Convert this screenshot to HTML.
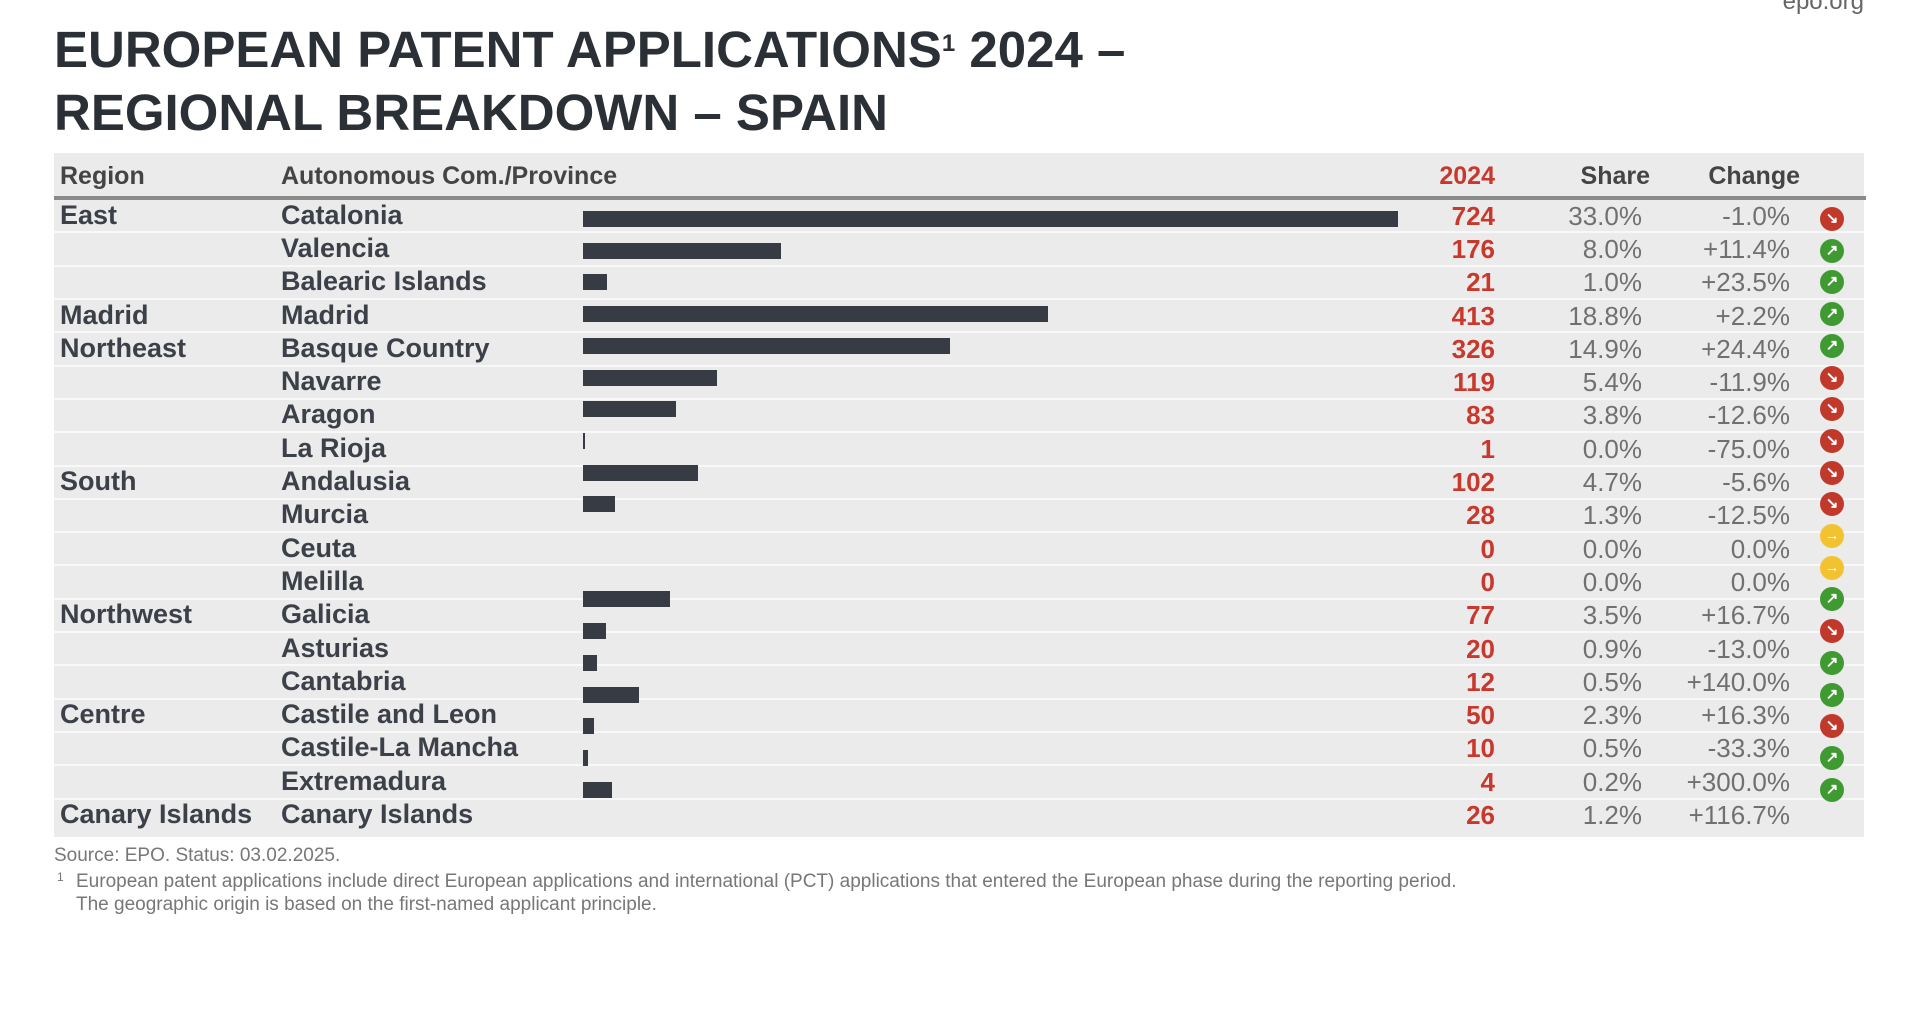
<!DOCTYPE html>
<html><head><meta charset="utf-8">
<style>
body{margin:0;width:1920px;height:1011px;background:#fff;position:relative;overflow:hidden;font-family:"Liberation Sans",sans-serif;}
.abs{position:absolute;white-space:nowrap;}
#title{left:54px;top:18px;font-size:51px;font-weight:bold;color:#2b2f36;line-height:63px;}
#title sup{font-size:24px;vertical-align:top;position:relative;top:-6px;}
#epo{right:56px;top:-12px;font-size:24px;color:#666;}
#table{left:54px;top:153px;width:1810px;height:684px;background:#ebebec;}
.hdr{top:162px;font-size:25px;font-weight:bold;color:#444;}
#hline{left:54px;top:196px;width:1812px;height:4px;background:#8a8a8a;}
.sep{position:absolute;left:54px;width:1810px;height:2px;background:#f8f8f8;}
.lab{font-size:27px;font-weight:bold;color:#3c4048;}
.num{font-size:26px;font-weight:bold;color:#c8382c;text-align:right;}
.val{font-size:26px;color:#707070;text-align:right;}
.bar{position:absolute;background:#363b44;height:16px;}
.foot{font-size:19px;color:#777;}
</style></head><body>
<div class="abs" id="epo">epo.org</div>
<div class="abs" id="title">EUROPEAN PATENT APPLICATIONS<sup>1</sup> 2024 –<br>REGIONAL BREAKDOWN – SPAIN</div>
<div class="abs" id="table"></div>
<div class="abs hdr" style="left:60px">Region</div>
<div class="abs hdr" style="left:281px">Autonomous Com./Province</div>
<div class="abs hdr" style="right:425px;color:#c8382c">2024</div>
<div class="abs hdr" style="right:270px">Share</div>
<div class="abs hdr" style="right:120px">Change</div>
<div class="abs" id="hline"></div>
<div id="rows"></div>
<div class="abs foot" style="left:54px;top:845px">Source: EPO. Status: 03.02.2025.</div>
<div class="abs foot" style="left:57px;top:870px;font-size:12px">1</div>
<div class="abs foot" style="left:76px;top:871px">European patent applications include direct European applications and international (PCT) applications that entered the European phase during the reporting period.</div>
<div class="abs foot" style="left:76px;top:894px">The geographic origin is based on the first-named applicant principle.</div>
<script>
const regions=["East","","","Madrid","Northeast","","","","South","","","","Northwest","","","Centre","","","Canary Islands"];
const provinces=["Catalonia","Valencia","Balearic Islands","Madrid","Basque Country","Navarre","Aragon","La Rioja","Andalusia","Murcia","Ceuta","Melilla","Galicia","Asturias","Cantabria","Castile and Leon","Castile-La Mancha","Extremadura","Canary Islands"];
const apps=[724,176,21,413,326,119,83,1,102,28,0,0,77,20,12,50,10,4,26];
const shares=["33.0%","8.0%","1.0%","18.8%","14.9%","5.4%","3.8%","0.0%","4.7%","1.3%","0.0%","0.0%","3.5%","0.9%","0.5%","2.3%","0.5%","0.2%","1.2%"];
const changes=[-1.0,11.4,23.5,2.2,24.4,-11.9,-12.6,-75.0,-5.6,-12.5,0.0,0.0,16.7,-13.0,140.0,16.3,-33.3,300.0,116.7];
const root=document.getElementById('rows');
const textY=i=>215.6+i*33.3;
const markY=i=>219+i*31.7;
const xScale=v=>v*1.125;
const X0=583;
function mk(cls,style,txt){const d=document.createElement('div');d.className=cls;d.style.cssText=style;if(txt!==undefined)d.textContent=txt;root.appendChild(d);return d;}
provinces.forEach((p,i)=>{
  const ty=textY(i);
  if(i>0){const s=mk('sep','top:'+(ty-17.5)+'px');
    
    }
  if(regions[i]){const r=mk('abs lab','left:60px;top:'+(ty-16)+'px',regions[i]);
    
    }
  const pl=mk('abs lab','left:281px;top:'+(ty-16)+'px',p);
  
  
  const n=mk('abs num','right:425px;top:'+(ty-15)+'px',String(apps[i]));
  
  
  const sh=mk('abs val','right:278px;top:'+(ty-15)+'px',shares[i]);
  
  
  const c=changes[i];
  const ct=(c>0?'+':'')+c.toFixed(1)+'%';
  const cv=mk('abs val','right:130px;top:'+(ty-15)+'px',ct);
  
  
  const my=markY(i);
  if(apps[i]>0){const b=mk('bar','left:'+X0+'px;top:'+(my-8)+'px;width:'+Math.max(2,xScale(apps[i]))+'px');
    
    }
  const col=c>0?'#3f9a32':(c<0?'#c0392b':'#f2c230');
  const sym=c>0?'↗':(c<0?'↘':'→');
  const ic=mk('abs','left:1820px;top:'+(my-12)+'px;width:24px;height:24px;border-radius:50%;background:'+col+';color:#fff;font-size:15px;font-weight:bold;line-height:24px;text-align:center',sym);
  
  
});
</script>
</body></html>
